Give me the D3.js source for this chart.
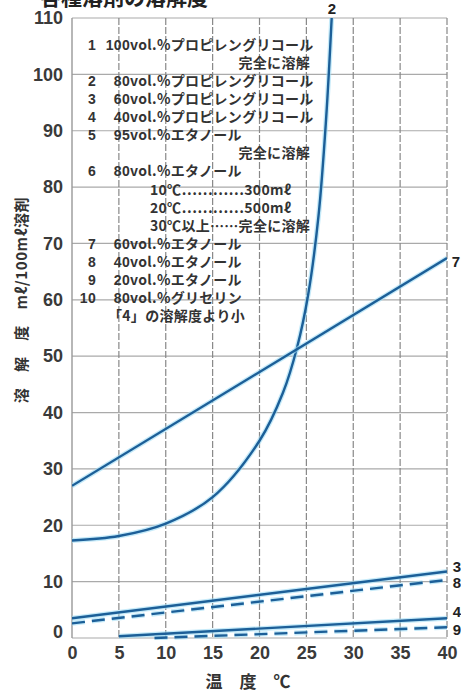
<!DOCTYPE html>
<html>
<head>
<meta charset="utf-8">
<script src="https://cdn.jsdelivr.net/npm/d3@7"></script>
<style>
  body { margin: 0; background: #fff; }
  svg { display: block; }
</style>
</head>
<body>
<svg id="chart" width="461" height="697"></svg>
<script>
// axis ticks
const xTicks = [0, 5, 10, 15, 20, 25, 30, 35, 40];
const yTicks = [0, 10, 20, 30, 40, 50, 60, 70, 80, 90, 100, 110];

// curves: [temperature, solubility]
const curve2 = [[0, 17.3], [5, 18.1], [10, 20.3], [15, 25], [20, 35], [22.5, 43.5],
  [24, 51.5], [25.2, 61], [26.3, 75], [27.1, 92], [27.7, 110]];
const line7 = [[0, 27], [40, 67.4]];
const line3 = [[0, 3.5], [40, 11.8]];
const line8 = [[0, 2.6], [40, 10.3]];
const line4 = [[5, 0.3], [40, 3.5]];
const line9 = [[8.8, 0], [40, 1.9]];

const seriesNames = ["2", "7", "3", "8", "4", "9"];
const seriesData = [curve2, line7, line3, line8, line4, line9];
const seriesDashed = [false, false, false, true, false, true];

// legend rows: [number, amount, rest] or ["", text, kind]
const legendRows = [
  ["1", "100", "vol.%プロピレングリコール"],
  ["", "完全に溶解", "right"],
  ["2", "80", "vol.%プロピレングリコール"],
  ["3", "60", "vol.%プロピレングリコール"],
  ["4", "40", "vol.%プロピレングリコール"],
  ["5", "95", "vol.%エタノール"],
  ["", "完全に溶解", "right"],
  ["6", "80", "vol.%エタノール"],
  ["", "10℃…………300mℓ", "sub"],
  ["", "20℃…………500mℓ", "sub"],
  ["", "30℃以上……完全に溶解", "sub"],
  ["7", "60", "vol.%エタノール"],
  ["8", "40", "vol.%エタノール"],
  ["9", "20", "vol.%エタノール"],
  ["10", "80", "vol.%グリセリン"],
  ["", "「4」の溶解度より小", "note"]
];

const titleText = "各種溶剤の溶解度";
const xTitle = "温　度　℃";
const yTitle = "溶　解　度　mℓ/100mℓ溶剤";

const svg = d3.select("#chart");
const plotLeft = 72, plotRight = 447, plotTop = 18, plotBottom = 638;

const x = d3.scaleLinear().domain([0, 40]).range([plotLeft, plotRight]);
const y = d3.scaleLinear().domain([0, 110]).range([plotBottom, plotTop]);

const numFont = "'Liberation Sans', Arial, sans-serif";
const jpFont = "'Noto Sans CJK JP', sans-serif";
const blue = "#1c5f98";

// title, mostly cut off at the top edge
svg.append("text")
  .attr("x", 40).attr("y", 5)
  .attr("font-family", jpFont).attr("font-size", 21).attr("font-weight", "bold")
  .attr("fill", "#222")
  .text(titleText);

// grid
const grid = svg.append("g");
grid.selectAll("line.h").data(yTicks).join("line")
  .attr("class", "h")
  .attr("x1", plotLeft).attr("x2", plotRight)
  .attr("y1", d => y(d)).attr("y2", d => y(d))
  .attr("stroke", "#aaa").attr("stroke-width", 1.2);
grid.selectAll("line.v").data(xTicks.slice(1)).join("line")
  .attr("class", "v")
  .attr("y1", plotTop).attr("y2", plotBottom)
  .attr("x1", d => x(d)).attr("x2", d => x(d))
  .attr("stroke", "#888").attr("stroke-width", 1.2)
  .attr("stroke-dasharray", "7,2");
grid.append("line")
  .attr("x1", plotLeft).attr("x2", plotLeft).attr("y1", plotTop).attr("y2", plotBottom)
  .attr("stroke", "#999").attr("stroke-width", 1.4);

// axes (labels only)
const yAxis = svg.append("g")
  .attr("transform", `translate(${plotLeft},0)`)
  .call(d3.axisLeft(y).tickValues(yTicks).tickSize(0).tickPadding(9));
yAxis.select(".domain").remove();
yAxis.selectAll("text")
  .attr("font-family", numFont).attr("font-size", 18).attr("font-weight", "bold")
  .attr("fill", "#3a3a3a")
  .attr("dy", d => d === 0 ? "-0.05em" : "0.32em");

const xAxis = svg.append("g")
  .attr("transform", `translate(0,${plotBottom})`)
  .call(d3.axisBottom(x).tickValues(xTicks).tickSize(0).tickPadding(8));
xAxis.select(".domain").remove();
xAxis.selectAll("text")
  .attr("font-family", numFont).attr("font-size", 18).attr("font-weight", "bold")
  .attr("fill", "#3a3a3a");

// axis titles
svg.append("text")
  .attr("x", 248).attr("y", 688)
  .attr("text-anchor", "middle")
  .attr("font-family", jpFont).attr("font-size", 17).attr("font-weight", "bold")
  .attr("fill", "#333")
  .text(xTitle);
svg.append("text")
  .attr("transform", "translate(27,300) rotate(-90)")
  .attr("text-anchor", "middle")
  .attr("font-family", jpFont).attr("font-size", 15).attr("font-weight", "bold")
  .attr("letter-spacing", 0.6)
  .attr("fill", "#333")
  .text(yTitle);

// legend
const legend = svg.append("g")
  .attr("font-family", jpFont).attr("font-size", 14).attr("font-weight", "bold")
  .attr("letter-spacing", 0.3)
  .attr("fill", "#333");
legendRows.forEach((r, i) => {
  const ty = 50 + i * 18.07;
  if (r[0] !== "") {
    legend.append("text").attr("x", 96).attr("y", ty).attr("text-anchor", "end")
      .attr("font-family", numFont).text(r[0]);
    // measure the amount so that "vol." lines up on every row
    const probe = legend.append("text").attr("font-family", numFont).text(r[1]);
    const w = probe.node().getComputedTextLength();
    probe.remove();
    const t = legend.append("text").attr("x", 130 - w).attr("y", ty);
    t.append("tspan").attr("font-family", numFont).text(r[1]);
    t.append("tspan").text(r[2]);
  } else if (r[2] === "right") {
    legend.append("text").attr("x", 310).attr("y", ty).attr("text-anchor", "end").text(r[1]);
  } else if (r[2] === "sub") {
    legend.append("text").attr("x", 150).attr("y", ty).text(r[1]);
  } else {
    legend.append("text").attr("x", 108).attr("y", ty).text(r[1]);
  }
});

// curves
const clipId = "plotclip";
svg.append("clipPath").attr("id", clipId).append("rect")
  .attr("x", plotLeft).attr("y", plotTop - 2)
  .attr("width", plotRight - plotLeft).attr("height", plotBottom - plotTop + 4);

const lineGen = d3.line().x(d => x(d[0])).y(d => y(d[1])).curve(d3.curveCatmullRom.alpha(0.5));
const curves = svg.append("g").attr("clip-path", `url(#${clipId})`);
seriesData.forEach((s, i) => {
  curves.append("path").datum(s)
    .attr("d", lineGen)
    .attr("fill", "none")
    .attr("stroke", "#9fdcf5").attr("stroke-width", 5).attr("stroke-opacity", 0.6)
    .attr("stroke-dasharray", seriesDashed[i] ? "13,7" : null);
  curves.append("path").datum(s)
    .attr("d", lineGen)
    .attr("fill", "none")
    .attr("stroke", blue).attr("stroke-width", 2.4)
    .attr("stroke-dasharray", seriesDashed[i] ? "13,7" : null);
});

// series labels
const labelPos = {
  "2": [332, 14], "7": [456, 267], "3": [457, 572], "8": [457, 588], "4": [457, 617], "9": [457, 635]
};
seriesNames.forEach(n => {
  svg.append("text")
    .attr("x", labelPos[n][0]).attr("y", labelPos[n][1])
    .attr("text-anchor", "middle")
    .attr("font-family", numFont).attr("font-size", 15).attr("font-weight", "bold")
    .attr("fill", "#222")
    .text(n);
});
</script>
</body>
</html>
